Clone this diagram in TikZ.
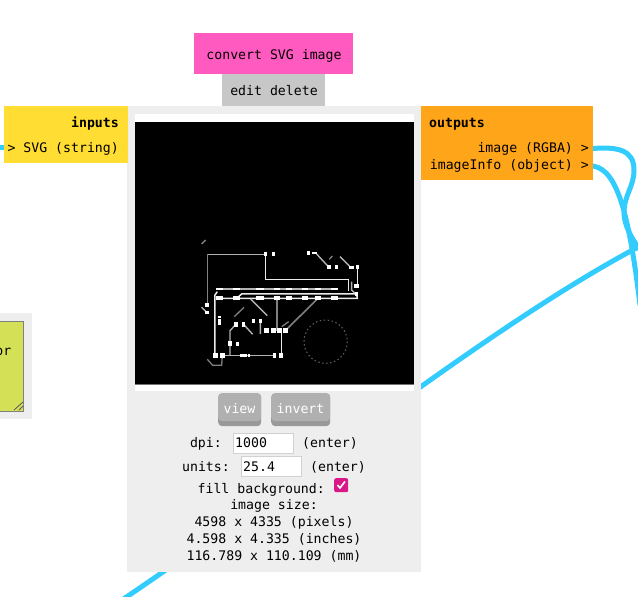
\documentclass[tikz,border=0pt]{standalone}
\usepackage{fontspec}
\setmonofont{DejaVu Sans Mono}
\pgfdeclarelayer{background}
\pgfsetlayers{background,main}
\definecolor{wireblue}{HTML}{33CCFF}
\definecolor{titlepink}{HTML}{FF5AC0}
\definecolor{inyellow}{HTML}{FFDD33}
\definecolor{outorange}{HTML}{FFA51A}
\definecolor{panelgrey}{HTML}{EEEEEE}
\definecolor{notegreen}{HTML}{D4E157}
\tikzset{
  txt/.style={inner sep=0pt, yshift=-3.3pt, font=\ttfamily\fontsize{13.2}{15}\selectfont, text=black},
  boldtxt/.style={txt, font=\ttfamily\bfseries\fontsize{13.2}{15}\selectfont},
  block/.style={inner sep=0pt, minimum width=#1, anchor=north west},
  field/.style={draw=black!18, line width=1.2pt, fill=white, inner sep=0pt, minimum width=60, minimum height=20, anchor=north west},
  wire/.style={draw=wireblue, line width=5pt},
  trace/.style={draw=black!8!white, line width=1.5pt},
  dimtrace/.style={draw=black!50!white, line width=1.3pt},
  midtrace/.style={draw=black!30!white, line width=1.4pt}
}
\begin{document}
\begin{tikzpicture}[x=1pt,y=-1pt]
\useasboundingbox (0,0) rectangle (638,597);

\node[block=32, minimum height=106, fill=panelgrey] (notepanel) at (0,313) {};
\node[block=24, minimum height=90, fill=notegreen, draw=black!50, line width=0.7pt] (note) at (-1,321) {};
\node[txt, anchor=mid east] (notetxt) at (11.5,350) {or};
\draw[black!65, line width=0.8pt] (14,410) -- (23,402) (19,410) -- (23,406);

\node[block=294, minimum height=466, fill=panelgrey] (panel) at (127,106) {};
\node[block=159, minimum height=41, fill=titlepink] (title) at (194,33) {};
\node[block=103, minimum height=32, fill=black!22] (menu) at (222,74) {};
\node[block=124, minimum height=57, fill=inyellow] (inputs) at (3.5,106) {};
\node[block=172, minimum height=74, fill=outorange] (outputs) at (421,106) {};
\node[block=279, minimum height=277, fill=white] (frame) at (135,114) {};
\node[block=279, minimum height=262, fill=black] (screen) at (135,122) {};
\draw[black!55, line width=1pt] (screen.south west) -- (screen.south east);

\node[txt] (titletxt) at (274,52.5) {convert SVG image};
\node[txt] (menutxt) at (274,87.5) {edit delete};
\node[boldtxt, anchor=mid east] (inputstxt) at (119,122) {inputs};
\node[txt, anchor=mid east] (svg) at (119,147) {> SVG (string)};
\node[boldtxt, anchor=mid west] (outputstxt) at (429,122) {outputs};
\node[txt, anchor=mid east] (image) at (589,147) {image (RGBA) >};
\node[txt, anchor=mid east] (imageinfo) at (589,164) {imageInfo (object) >};

\begin{scope}[shift={(130,220)},x=0.3333pt,y=-0.3333pt]
\draw[midtrace] (233,103) -- (407,103);
\draw[dimtrace] (233,103) -- (233,252);
\draw[trace] (407,103) -- (407,178) -- (655,178) -- (655,212);
\draw[midtrace] (560,102) -- (597,142);
\draw[dimtrace] (598,118) -- (607,108) (215,72) -- (227,60) (313,290) -- (342,262) (455,320) -- (476,305);
\draw[midtrace] (630,110) -- (662,142);
\draw[trace] (682,142) -- (682,198);
\draw[midtrace] (665,185) -- (665,210) -- (680,225);
\draw[midtrace] (268,207) -- (620,207);
\draw[trace] (268,235) -- (320,235) -- (335,222) -- (680,222) -- (682,235) -- (330,235);
\draw[trace] (262,215) -- (255,225) -- (255,405);
\draw[midtrace] (215,262) -- (232,279);
\draw[midtrace] (362,237) -- (412,287);
\draw[dimtrace, line width=2pt] (440,235) -- (440,332);
\draw[dimtrace, line width=1.6pt] (564,235) -- (466,332);
\draw[trace] (454,332) -- (454,405);
\draw[midtrace] (391,304) -- (391,342) (341,313) -- (368,343);
\draw[midtrace] (318,313) -- (300,332) -- (300,405);
\draw[midtrace] (277,407) -- (434,407);
\draw[dimtrace] (232,418) -- (248,436) -- (275,436) -- (277,407);
\draw[black!62!white, line width=1pt, dash pattern=on 1.5pt off 2.5pt] (587,365) circle (65);
\foreach \x/\y/\w/\h in {407/103/10/12, 431/103/9/11, 537/100/9/12, 553/100/16/7, 597/142/10/11, 620/142/10/11,
  664/142/15/8, 682/142/9/11, 680/198/15/10, 680/222/11/10, 232/256/12/11, 232/279/13/9, 268/292/8/7, 268/307/9/18,
  318/313/11/14, 341/313/11/14, 370/304/10/13, 391/304/10/13, 411/332/15/15, 430/332/14/15, 450/332/15/15, 466/332/16/15,
  300/371/12/14, 323/371/11/12, 258/407/15/15, 277/407/15/15, 340/407/20/9, 358/407/6/7, 434/407/11/13, 454/407/11/13}{
  \fill[white] (\x-\w/2,\y-\h/2) rectangle (\x+\w/2,\y+\h/2);
}
\foreach \x/\w in {268/22, 319/20, 390/22, 441/20, 477/20, 525/20, 564/20, 613/20}{
  \fill[white] (\x-\w/2,207-4) rectangle (\x+\w/2,207+4);
  \fill[white] (\x-\w/2,235-6) rectangle (\x+\w/2,235+6);
}
\end{scope}

\node[block=43, minimum height=33, fill=black!40, rounded corners=4pt] (viewbase) at (218,393) {};
\node[block=43, minimum height=28, fill=black!31, rounded corners=4pt] (viewtop) at (218,393) {};
\node[block=59, minimum height=33, fill=black!40, rounded corners=4pt] (invertbase) at (271,393) {};
\node[block=59, minimum height=28, fill=black!31, rounded corners=4pt] (inverttop) at (271,393) {};
\node[txt, text=white] (viewtxt) at (239.5,405) {view};
\node[txt, text=white] (inverttxt) at (300.5,405) {invert};

\node[field] (dpibox) at (232.5,432.5) {};
\node[field] (unitsbox) at (240.5,456) {};
\node[txt, anchor=mid east] (dpitxt) at (222,442) {dpi:};
\node[txt, anchor=mid west] (dpival) at (235,442) {1000};
\node[txt, anchor=mid west] (dpienter) at (302,442) {(enter)};
\node[txt, anchor=mid east] (unitstxt) at (230,466) {units:};
\node[txt, anchor=mid west] (unitsval) at (243,466) {25.4};
\node[txt, anchor=mid west] (unitsenter) at (310,466) {(enter)};
\node[txt, anchor=mid east] (filltxt) at (325,488) {fill background:};
\node[block=14, minimum height=14, fill=magenta!90!black, rounded corners=2pt] (check) at (334,478) {};
\draw[white, line width=1.6pt] (337.5,485) -- (340,488) -- (345,481.5);
\node[txt] (sizetxt) at (274,502.5) {image size:};
\node[txt] (pixelstxt) at (274,519.5) {4598 x 4335 (pixels)};
\node[txt] (inchestxt) at (274,536.5) {4.598 x 4.335 (inches)};
\node[txt] (mmtxt) at (274,553.5) {116.789 x 110.109 (mm)};

\coordinate (infrom) at (-4,147);
\coordinate (lowend) at (122,600);
\coordinate (rightend) at (642,245);
\coordinate (imageend) at (642,252);
\coordinate (infoend) at (640,305);

\begin{pgfonlayer}{background}
\draw[wire] (infrom) -- (3.5,147);
\draw[wire] (lowend) .. controls (300,480) and (490,325) .. (rightend);
\draw[wire] (image.east) .. controls (618,146) and (634,150) .. (634,170)
  .. controls (634,187) and (624,195) .. (624,213) .. controls (624,225) and (632,240) .. (imageend);
\draw[wire] (imageinfo.east) .. controls (615,165) and (628,205) .. (infoend);
\end{pgfonlayer}
\end{tikzpicture}
\end{document}
